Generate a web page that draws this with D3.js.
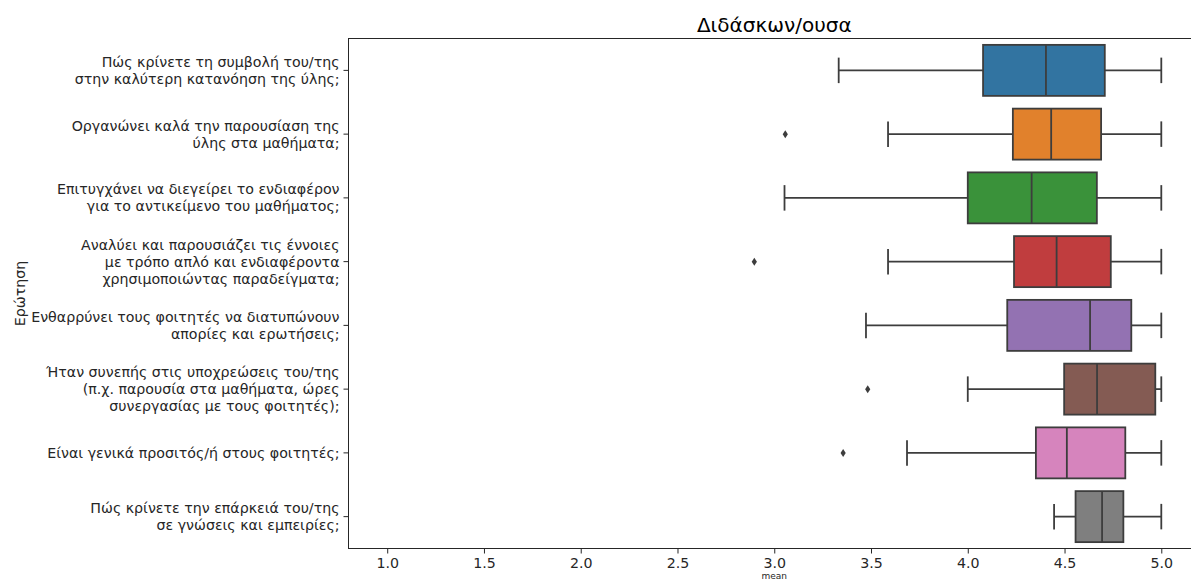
<!DOCTYPE html>
<html>
<head>
<meta charset="utf-8">
<script src="https://cdn.jsdelivr.net/npm/d3@7"></script>
<style>
  html, body { margin: 0; padding: 0; background: #fff; }
  svg { display: block; font-family: "DejaVu Sans", sans-serif; }
</style>
</head>
<body>
<svg id="chart" width="1191" height="580"></svg>
<script>
// ---- Data ----
const categories = [
  ["Πώς κρίνετε τη συμβολή του/της", "στην καλύτερη κατανόηση της ύλης;"],
  ["Οργανώνει καλά την παρουσίαση της", "ύλης στα μαθήματα;"],
  ["Επιτυγχάνει να διεγείρει το ενδιαφέρον", "για το αντικείμενο του μαθήματος;"],
  ["Αναλύει και παρουσιάζει τις έννοιες", "με τρόπο απλό και ενδιαφέροντα", "χρησιμοποιώντας παραδείγματα;"],
  ["Ενθαρρύνει τους φοιτητές να διατυπώνουν", "απορίες και ερωτήσεις;"],
  ["Ήταν συνεπής στις υποχρεώσεις του/της", "(π.χ. παρουσία στα μαθήματα, ώρες", "συνεργασίας με τους φοιτητές);"],
  ["Είναι γενικά προσιτός/ή στους φοιτητές;"],
  ["Πώς κρίνετε την επάρκειά του/της", "σε γνώσεις και εμπειρίες;"]
];
const whiskerLow  = [3.333, 3.588, 3.053, 3.588, 3.474, 4.000, 3.686, 4.446];
const q1          = [4.079, 4.233, 4.000, 4.239, 4.204, 4.498, 4.352, 4.557];
const median      = [4.404, 4.431, 4.330, 4.459, 4.632, 4.668, 4.512, 4.694];
const q3          = [4.708, 4.689, 4.667, 4.739, 4.845, 4.969, 4.814, 4.804];
const whiskerHigh = [5.0, 5.0, 5.0, 5.0, 5.0, 5.0, 5.0, 5.0];
const outliers    = [[], [3.057], [], [2.897], [], [3.483], [3.356], []];
const colors = ["#3274a1", "#e1812c", "#3a923a", "#c03d3e", "#9372b2", "#845b53", "#d684bd", "#7f7f7f"];
const xTicks = [1.0, 1.5, 2.0, 2.5, 3.0, 3.5, 4.0, 4.5, 5.0];
const title = "Διδάσκων/ουσα";
const xLabel = "mean";
const yLabel = "Ερώτηση";

// ---- Layout ----
const svg = d3.select("#chart");
const mLeft = 348.5, mRight = 1200, mTop = 38.5, mBottom = 548.5;
const edge = "#3d3d3d";
const fs = 14.2;

const x = d3.scaleLinear().domain([0.8, 5.2]).range([mLeft, mRight]);
const idx = d3.range(categories.length);
const y = d3.scaleBand().domain(idx).range([mTop, mBottom]).padding(0);
const bw = y.bandwidth() * 0.8;

const rows = idx.map(i => ({
  i, lo: whiskerLow[i], q1: q1[i], med: median[i], q3: q3[i], hi: whiskerHigh[i],
  out: outliers[i], color: colors[i]
}));

const g = svg.append("g");
const cy = i => y(i) + y.bandwidth() / 2;

const box = g.selectAll("g.box").data(rows).enter().append("g").attr("class", "box");
box.append("line").attr("x1", d => x(d.lo)).attr("x2", d => x(d.q1))
  .attr("y1", d => cy(d.i)).attr("y2", d => cy(d.i)).attr("stroke", edge).attr("stroke-width", 1.8);
box.append("line").attr("x1", d => x(d.q3)).attr("x2", d => x(d.hi))
  .attr("y1", d => cy(d.i)).attr("y2", d => cy(d.i)).attr("stroke", edge).attr("stroke-width", 1.8);
box.append("line").attr("x1", d => x(d.lo)).attr("x2", d => x(d.lo))
  .attr("y1", d => cy(d.i) - bw / 4).attr("y2", d => cy(d.i) + bw / 4).attr("stroke", edge).attr("stroke-width", 1.8);
box.append("line").attr("x1", d => x(d.hi)).attr("x2", d => x(d.hi))
  .attr("y1", d => cy(d.i) - bw / 4).attr("y2", d => cy(d.i) + bw / 4).attr("stroke", edge).attr("stroke-width", 1.8);
box.append("rect").attr("x", d => x(d.q1)).attr("width", d => x(d.q3) - x(d.q1))
  .attr("y", d => cy(d.i) - bw / 2).attr("height", bw)
  .attr("fill", d => d.color).attr("stroke", edge).attr("stroke-width", 1.8);
box.append("line").attr("x1", d => x(d.med)).attr("x2", d => x(d.med))
  .attr("y1", d => cy(d.i) - bw / 2).attr("y2", d => cy(d.i) + bw / 2).attr("stroke", edge).attr("stroke-width", 1.8);
box.each(function(d) {
  d3.select(this).selectAll("path.out").data(d.out).enter().append("path")
    .attr("class", "out")
    .attr("d", v => { const px = x(v), py = cy(d.i); return `M${px},${py-4}L${px+2.6},${py}L${px},${py+4}L${px-2.6},${py}Z`; })
    .attr("fill", edge);
});

// ---- Axes ----
const xAxis = d3.axisBottom(x).tickValues(xTicks).tickFormat(d3.format(".1f")).tickSize(5).tickPadding(4);
const xg = svg.append("g").attr("transform", `translate(0,${mBottom})`).call(xAxis);
xg.select(".domain").remove();
xg.selectAll("line").attr("stroke", "#262626").attr("stroke-width", 1);
xg.selectAll("text").attr("font-size", fs).attr("fill", "#262626").attr("font-family", "DejaVu Sans");

const yAxis = d3.axisLeft(y).tickSize(5).tickFormat("");
const yg = svg.append("g").attr("transform", `translate(${mLeft},0)`).call(yAxis);
yg.select(".domain").remove();
yg.selectAll("line").attr("stroke", "#262626").attr("stroke-width", 1);

const lineH = 17;
const labels = svg.append("g").selectAll("text").data(idx).enter().append("text")
  .attr("text-anchor", "end").attr("font-size", fs).attr("fill", "#262626")
  .attr("transform", i => `translate(${mLeft - 9},${cy(i)})`);
labels.each(function(i) {
  const lines = categories[i];
  const n = lines.length;
  d3.select(this).selectAll("tspan").data(lines).enter().append("tspan")
    .attr("x", 0)
    .attr("y", (l, k) => (k - (n - 1) / 2) * lineH)
    .attr("dy", "0.35em")
    .text(l => l);
});

svg.append("rect").attr("x", mLeft).attr("y", mTop).attr("width", mRight - mLeft).attr("height", mBottom - mTop)
  .attr("fill", "none").attr("stroke", "#262626").attr("stroke-width", 1);

svg.append("text").attr("x", (mLeft + mRight) / 2).attr("y", 32).attr("text-anchor", "middle")
  .attr("font-size", 20).attr("fill", "#000").text(title);
svg.append("text").attr("x", (mLeft + mRight) / 2).attr("y", 579).attr("text-anchor", "middle")
  .attr("font-size", 9).attr("fill", "#262626").text(xLabel);
svg.append("text").attr("transform", `translate(24.5,${(mTop + mBottom) / 2}) rotate(-90)`).attr("text-anchor", "middle")
  .attr("font-size", fs).attr("fill", "#262626").text(yLabel);
</script>
</body>
</html>
